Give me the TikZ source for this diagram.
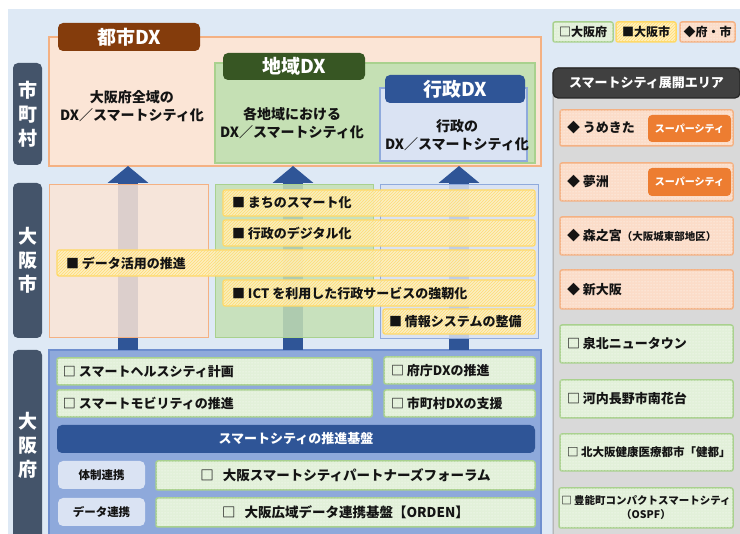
\documentclass[tikz,border=0pt]{standalone}
\usepackage{fontspec}
\setmainfont{Noto Sans CJK JP}
\usetikzlibrary{patterns,arrows.meta}
\definecolor{bgblue}{HTML}{DEE9F5}
\definecolor{slate}{HTML}{44546A}
\definecolor{peach}{HTML}{FBE5D6}
\definecolor{peachB}{HTML}{F4B183}
\definecolor{peachI}{HTML}{FBDCC8}
\definecolor{lgreen}{HTML}{C5E0B4}
\definecolor{greenB}{HTML}{A9D18E}
\definecolor{lblue}{HTML}{DAE3F3}
\definecolor{blueB}{HTML}{8FAADC}
\definecolor{cBrown}{HTML}{843C0C}
\definecolor{dgreen}{HTML}{375623}
\definecolor{dblue}{HTML}{2F5597}
\definecolor{ylw}{HTML}{FFF0BE}
\definecolor{ylwB}{HTML}{FFD966}
\definecolor{ylwP}{HTML}{FFDC73}
\definecolor{fuBlue}{HTML}{8EA9DB}
\definecolor{fuBorder}{HTML}{6F8FCF}
\definecolor{paleG}{HTML}{E2F0D9}
\definecolor{panelG}{HTML}{D9D9D9}
\definecolor{panelB}{HTML}{A6A6A6}
\definecolor{dgray}{HTML}{404040}
\definecolor{orng}{HTML}{ED7D31}
\definecolor{txt}{HTML}{141414}
\newcommand\bx[7]{%
 \pgfmathsetmacro\bxw{#5-#3}\pgfmathsetmacro\bxh{#6-#4}%
 \pgfmathsetmacro\bxx{(#3+#5)/2}\pgfmathsetmacro\bxy{(#4+#6)/2}%
 \node[#2, minimum width=\bxw pt, minimum height=\bxh pt] (#1) at (\bxx,\bxy) {#7};}
\tikzset{
 every node/.style={inner sep=0pt, outer sep=0pt},
 rowlbl/.style={fill=slate, rounded corners=5pt, text=white, font=\bfseries\fontsize{19}{24}\selectfont, align=center},
 hdr/.style={rounded corners=5pt, text=white, font=\bfseries\fontsize{19}{22}\selectfont},
 dxtxt/.style={font=\bfseries\fontsize{14}{18}\selectfont, align=center, text=txt},
 cbox/.style={line width=1pt, fill opacity=0.85},
 ybar/.style={fill=ylw, draw=ylwB, line width=1.2pt, rounded corners=2pt, fill opacity=0.88, postaction={pattern=north east lines, pattern color=ylwP}},
 btxt/.style={font=\bfseries\fontsize{13}{16}\selectfont, text=txt, anchor=west},
 gitem/.style={fill=paleG, draw=greenB, line width=1.5pt, rounded corners=2pt, postaction={pattern=dots, pattern color=white}},
 pitem/.style={fill=peachI, draw=peachB, line width=1.5pt, rounded corners=2pt, postaction={pattern=dots, pattern color=white}},
 yitem/.style={fill=ylw, draw=ylwB, line width=1.5pt, rounded corners=2pt, postaction={pattern=north east lines, pattern color=ylwP}},
 ctxt/.style={font=\bfseries\fontsize{13.5}{16}\selectfont, text=txt},
 tagS/.style={fill=lblue, rounded corners=5pt, font=\bfseries\fontsize{11.5}{14}\selectfont, text=txt},
 super/.style={fill=orng, rounded corners=4pt, text=white, font=\bfseries\fontsize{10}{12}\selectfont},
 bigarrow/.style={draw=dblue, line width=20pt, -{Triangle[width=40pt,length=17pt]}},
 legtxt/.style={font=\bfseries\fontsize{12}{14}\selectfont, text=txt}
}
\begin{document}
\begin{tikzpicture}[x=1pt,y=-1pt]
\useasboundingbox (0,0) rectangle (740,534);
\fill[bgblue] (8,9) rectangle (740,534);
% row labels
\bx{rowA}{rowlbl}{13}{63}{42}{165}{市\\町\\村}
\bx{rowB}{rowlbl}{13}{183}{42}{338}{大\\阪\\市}
\bx{rowC}{rowlbl}{13}{350}{42}{540}{大\\阪\\府}
% top DX boxes
\bx{toshi}{fill=peach, draw=peachB, line width=1.2pt}{49}{37}{541}{166}{}
\bx{chiiki}{fill=lgreen, draw=greenB, line width=1.2pt}{215}{63}{535}{163}{}
\bx{gyosei}{fill=lblue, draw=blueB, line width=1.2pt}{380}{88}{527}{161}{}
\bx{toshiH}{hdr, fill=cBrown}{58}{23}{200}{51}{都市DX}
\bx{chiikiH}{hdr, fill=dgreen}{223}{53}{365}{80}{地域DX}
\bx{gyoseiH}{hdr, fill=dblue}{385}{75}{525}{103}{行政DX}
\node[dxtxt] (toshiT) at (132,106) {大阪府全域の\\DX／スマートシティ化};
\node[dxtxt] (chiikiT) at (292,123) {各地域における\\DX／スマートシティ化};
\node[dxtxt] (gyoseiT) at (457,135) {行政の\\DX／スマートシティ化};
% osaka-fu frame (arrows start from its top)
\bx{fu}{fill=fuBlue, draw=fuBorder, line width=1.2pt}{49}{350}{541}{540}{}
% arrows
\coordinate (a1) at (128,0);
\coordinate (a2) at (293,0);
\coordinate (a3) at (459,0);
\draw[bigarrow] (fu.north -| a1) -- (toshi.south -| a1);
\draw[bigarrow] (fu.north -| a2) -- (toshi.south -| a2);
\draw[bigarrow] (fu.north -| a3) -- (toshi.south -| a3);
% osaka-shi row
\bx{cityP}{cbox, fill=peach, draw=peachB}{49}{185}{208}{338}{}
\bx{cityG}{cbox, fill=lgreen, draw=greenB}{215}{185}{373}{338}{}
\bx{cityB}{cbox, fill=lblue, draw=blueB}{380}{185}{538}{339}{}
\bx{y1}{ybar}{223}{190}{535}{216}{}
\bx{y2}{ybar}{223}{220}{535}{246}{}
\bx{y3}{ybar}{57}{250}{535}{276}{}
\bx{y4}{ybar}{223}{280}{535}{306}{}
\bx{y5}{ybar}{383}{309}{535}{334}{}
\node[btxt] (y1T) at ([xshift=9pt]y1.west) {■ まちのスマート化};
\node[btxt] (y2T) at ([xshift=9pt]y2.west) {■ 行政のデジタル化};
\node[btxt] (y3T) at ([xshift=9pt]y3.west) {■ データ活用の推進};
\node[btxt] (y4T) at ([xshift=9pt]y4.west) {■ ICT を利用した行政サービスの強靭化};
\node[btxt] (y5T) at ([xshift=6pt]y5.west) {■ 情報システムの整備};
% osaka-fu row items
\bx{health}{gitem}{57}{358}{372}{385}{}
\bx{mobility}{gitem}{57}{390}{372}{417}{}
\bx{fucho}{gitem}{384}{357}{535}{384}{}
\bx{shichoson}{gitem}{384}{390}{535}{417}{}
\node[btxt] (healthT) at ([xshift=6pt]health.west) {□ スマートヘルスシティ計画};
\node[btxt] (mobilityT) at ([xshift=6pt]mobility.west) {□ スマートモビリティの推進};
\node[btxt] (fuchoT) at ([xshift=7pt]fucho.west) {□ 府庁DXの推進};
\node[btxt] (shichosonT) at ([xshift=7pt]shichoson.west) {□ 市町村DXの支援};
\bx{kiban}{fill=dblue, rounded corners=5pt, text=white, font=\bfseries\fontsize{13}{16}\selectfont}{57}{425}{535}{453}{スマートシティの推進基盤}
\bx{taisei}{tagS}{58}{461}{145}{489}{体制連携}
\bx{datarenkei}{tagS}{58}{498}{145}{526}{データ連携}
\bx{forum}{gitem, ctxt}{156}{461}{535}{490}{□\hspace{9pt}大阪スマートシティパートナーズフォーラム}
\bx{orden}{gitem, ctxt}{156}{498}{535}{527}{□\hspace{9pt}大阪広域データ連携基盤【ORDEN】}
% legend
\bx{legF}{gitem, legtxt}{553}{22}{613}{42}{□大阪府}
\bx{legC}{yitem, legtxt}{616}{22}{676}{42}{■大阪市}
\bx{legB}{pitem, legtxt}{680}{22}{735}{42}{◆府・市}
% right panel
\bx{panel}{fill=panelG, draw=panelB, line width=1pt, rounded corners=5pt}{553}{68}{742}{540}{}
\bx{areaH}{fill=dgray, draw=black!85, line width=1.2pt, rounded corners=5pt, text=white, font=\bfseries\fontsize{13}{16}\selectfont}{553}{68}{740}{98}{スマートシティ展開エリア}
\bx{umeda}{pitem}{560}{110}{733}{146}{}
\bx{yume}{pitem}{560}{163}{733}{201}{}
\bx{mori}{pitem}{560}{217}{733}{255}{}
\bx{shin}{pitem}{560}{270}{733}{309}{}
\bx{senboku}{gitem}{560}{325}{733}{363}{}
\bx{kawachi}{gitem}{560}{380}{733}{418}{}
\bx{kento}{gitem}{560}{434}{733}{471}{}
\bx{toyono}{gitem}{559}{488}{733}{528}{}
\bx{umedaS}{super}{648}{115}{731}{142}{スーパーシティ}
\bx{yumeS}{super}{648}{168}{731}{196}{スーパーシティ}
\node[btxt] (umedaT) at ([xshift=7pt]umeda.west) {◆ うめきた};
\node[btxt] (yumeT) at ([xshift=7pt]yume.west) {◆ 夢洲};
\node[btxt] (moriT) at ([xshift=7pt]mori.west) {◆ 森之宮{\fontsize{10.5}{12}\selectfont（大阪城東部地区）}};
\node[btxt] (shinT) at ([xshift=7pt]shin.west) {◆ 新大阪};
\node[btxt] (senbokuT) at ([xshift=7pt]senboku.west) {□ 泉北ニュータウン};
\node[btxt] (kawachiT) at ([xshift=7pt]kawachi.west) {□ 河内長野市南花台};
\node[btxt, font=\bfseries\fontsize{11.5}{14}\selectfont] (kentoT) at ([xshift=7pt]kento.west) {□ 北大阪健康医療都市「健都」};
\node[ctxt, font=\bfseries\fontsize{10.5}{14}\selectfont, align=center] (toyonoT) at (toyono.center) {□ 豊能町コンパクトスマートシティ\\（OSPF）};
\end{tikzpicture}
\end{document}
